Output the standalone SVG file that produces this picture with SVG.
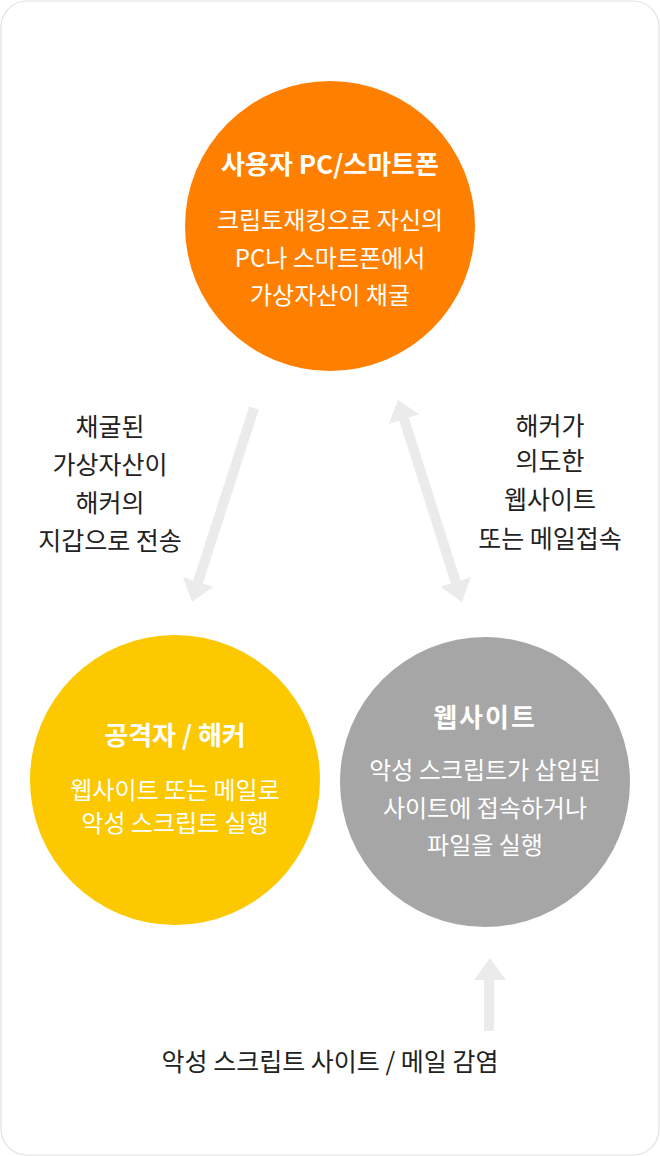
<svg xmlns="http://www.w3.org/2000/svg" width="660" height="1156" viewBox="0 0 660 1156">
<style>
text{font-family:"Noto Sans CJK KR","Noto Sans",sans-serif;text-anchor:middle;}
.t{font-size:26px;font-weight:bold;fill:#fff;}
.b{font-size:24px;fill:#fff;}
.l{font-size:25px;font-weight:400;fill:#222;}
.a{fill:#ebebeb;}
</style>
<rect x="1" y="1" width="658" height="1154" rx="26" fill="#fff" stroke="#e2e2e2" stroke-width="1.2"/>
<g id="connectors">
<polygon class="a" points="249.2,406.5 258.8,409.5 202.8,583.5 213,587 192,602 183,577 193.2,580.5"/>
<polygon class="a" points="398,400 419.1,414.2 408.8,417.5 460.5,580.5 470.8,577.2 462,602 440.6,586.8 450.9,583.5 399.2,420.5 388.9,423.8"/>
<polygon class="a" points="490,958 506,980 494,980 494,1031 484,1031 484,980 474,980"/>
</g>
<g id="user-pc">
<circle cx="330" cy="226" r="145" fill="#ff8000"/>
<text class="t" x="330" y="173.5">사용자 PC/스마트폰</text>
<text class="b" x="330" y="229">크립토재킹으로 자신의</text>
<text class="b" x="330" y="267">PC나 스마트폰에서</text>
<text class="b" x="330" y="304">가상자산이 채굴</text>
</g>
<g id="attacker">
<circle cx="175" cy="780" r="145" fill="#fcc800"/>
<text class="t" x="175" y="744.5">공격자 / 해커</text>
<text class="b" x="175" y="799">웹사이트 또는 메일로</text>
<text class="b" x="175" y="832">악성 스크립트 실행</text>
</g>
<g id="website">
<circle cx="485" cy="782" r="145" fill="#a6a6a6"/>
<text class="t" x="485" y="727" letter-spacing="2">웹사이트</text>
<text class="b" x="485" y="779">악성 스크립트가 삽입된</text>
<text class="b" x="485" y="817">사이트에 접속하거나</text>
<text class="b" x="485" y="854">파일을 실행</text>
</g>
<g id="label-left">
<text class="l" x="110" y="436">채굴된</text>
<text class="l" x="110" y="474">가상자산이</text>
<text class="l" x="110" y="512">해커의</text>
<text class="l" x="110" y="550">지갑으로 전송</text>
</g>
<g id="label-right">
<text class="l" x="550" y="435">해커가</text>
<text class="l" x="550" y="470">의도한</text>
<text class="l" x="550" y="509">웹사이트</text>
<text class="l" x="550" y="548">또는 메일접속</text>
</g>
<g id="label-bottom">
<text class="l" x="330" y="1071">악성 스크립트 사이트 / 메일 감염</text>
</g>
</svg>
